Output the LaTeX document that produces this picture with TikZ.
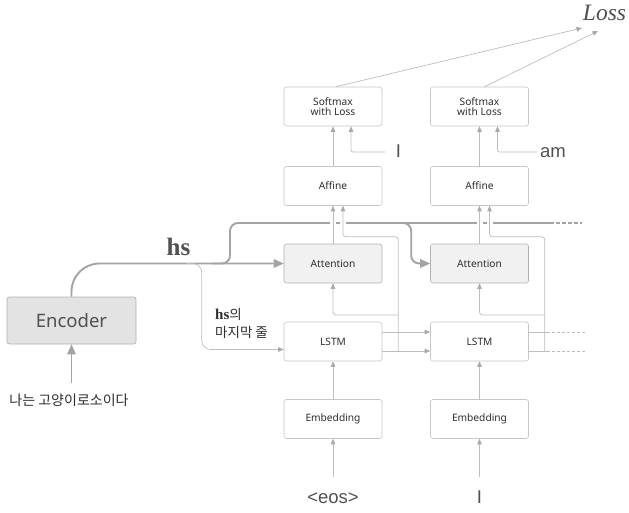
\documentclass[tikz,border=0pt]{standalone}
\usepackage{fontspec}
\setmainfont{Noto Sans}
\newfontfamily\kr{Noto Sans CJK KR}
\newfontfamily\serifb{Liberation Serif}
\newfontfamily\wordfont{Liberation Sans}
\usetikzlibrary{arrows.meta,calc}
\definecolor{boxc}{HTML}{C6C6C6}
\definecolor{attfill}{HTML}{F1F1F1}
\definecolor{encfill}{HTML}{E3E3E3}
\definecolor{encdraw}{HTML}{B2B2B2}
\definecolor{thinc}{HTML}{BDBDBD}
\definecolor{tipc}{HTML}{A9A9A9}
\definecolor{thickc}{HTML}{A3A3A3}
\definecolor{txt}{HTML}{2E2E2E}
\definecolor{lbl}{HTML}{505050}
\begin{document}
\begin{tikzpicture}[x=1pt,y=-1pt,
  box/.style={draw=boxc, fill=white, rounded corners=2.5pt, minimum width=98pt, minimum height=39pt,
    font=\fontsize{10.2}{10.4}\selectfont, align=center, text=txt, line width=0.6pt, inner sep=0pt},
  attbox/.style={box, fill=attfill, draw=boxc!90!black},
  thinline/.style={draw=thinc, line width=0.7pt},
  thinarrow/.style={thinline, -{Triangle[length=5.5pt,width=4.5pt,fill=tipc,color=tipc]}},
  thickline/.style={draw=thickc, line width=1.9pt},
  thickarrow/.style={thickline, -{Triangle[length=10pt,width=9pt,fill=thickc,color=thickc,line width=0pt]}},
  word/.style={font=\wordfont\fontsize{18.5}{20}\selectfont, text=lbl, inner sep=0pt},
]
\useasboundingbox (0,0) rectangle (629,512);

% boxes
\node[box] (sm1) at (333,106.5) {Softmax\\with Loss};
\node[box] (sm2) at (479.5,106.5) {Softmax\\with Loss};
\node[box] (af1) at (333,186) {Affine};
\node[box] (af2) at (479.5,186) {Affine};
\node[attbox] (at1) at (333,263.5) {Attention};
\node[attbox] (at2) at (479.5,263.5) {Attention};
\node[box] (ls1) at (333,341.5) {LSTM};
\node[box] (ls2) at (479.5,341.5) {LSTM};
\node[box] (em1) at (333,419) {Embedding};
\node[box] (em2) at (479.5,419) {Embedding};
\node[draw=encdraw, fill=encfill, rounded corners=2.5pt, minimum width=129pt, minimum height=47pt,
  line width=0.7pt, font=\fontsize{18.5}{20}\selectfont, text=lbl] (enc) at (71.5,320.5) {Encoder};

% texts
\node[font=\serifb\itshape\fontsize{23.5}{24}\selectfont, text=lbl, anchor=base, inner sep=0pt] (loss) at (604.5,20) {Loss};
\node[word, anchor=base] (wI) at (398.5,157) {I};
\node[word, anchor=base west] (wam) at (540,157) {am};
\node[word, anchor=base] (weos) at (333,503) {<eos>};
\node[word, anchor=base] (wI2) at (479.5,503) {I};
\node[font=\kr\fontsize{14}{15}\selectfont, text=txt, inner sep=0pt] (kor) at (69,400) {나는 고양이로소이다};
\node[font=\serifb\bfseries\fontsize{25}{25}\selectfont, text=lbl, anchor=base, inner sep=0pt] (hs) at (178.5,255) {hs};
\node[font=\kr\fontsize{13.5}{18.5}\selectfont, text=txt, anchor=north west, align=left, inner sep=0pt] (hslast) at (215,308)
  {{\serifb\bfseries\fontsize{15}{18.5}\selectfont hs}의\\마지막 줄};

% free ends
\coordinate (l1) at (582,28);
\coordinate (l2) at (598,31);
\coordinate (iS) at (385,152);
\coordinate (amS) at (537,152);
\coordinate (e1) at (333,477);
\coordinate (e2) at (479.5,477);
\coordinate (kin) at (71.5,383);
\coordinate (hsend) at (582,223);
\coordinate (hsmid) at (550,223);
\coordinate (o1) at (547,332);
\coordinate (o1e) at (585,332);
\coordinate (o2) at (547,351);
\coordinate (o2e) at (585,351);

% thick hs lines
\draw[thickarrow, rounded corners=28pt] (enc.north) |- (at1.west);
\draw[thickline, rounded corners=8pt] (212,263.5) -- (230,263.5) -- (230,223) -- (hsmid);
\draw[thickline, dashed, dash pattern=on 4pt off 2pt] (hsmid) -- (hsend);
\draw[thickarrow, rounded corners=8pt] (398,223) -| ($(at2.west)+(-19,0)$) -- (at2.west);
\draw[thickarrow] (kin) -- (enc.south);

% thin last-line path
\draw[thinarrow, rounded corners=9pt] (186,263.5) -| ($(ls1.west)+(-82,8)$) -- ($(ls1.west)+(0,8)$);

% gaps in hs line
\foreach \x in {333,343,479.5,489.5} \draw[white, line width=6pt] (\x,219.5) -- (\x,226.5);

% loss arrows
\draw[thinarrow] ($(sm1.north)+(3,0)$) -- (l1);
\draw[thinarrow] ($(sm2.north)+(5,0)$) -- (l2);

% label inputs
\draw[thinarrow, rounded corners=2pt] (iS) -| ($(sm1.south)+(18,0)$);
\draw[thinarrow, rounded corners=2pt] (amS) -| ($(sm2.south)+(18,0)$);

% vertical chains
\foreach \n in {1,2}{
  \draw[thinarrow] (af\n.north) -- (sm\n.south);
  \draw[thinarrow] (at\n.north) -- (af\n.south);
  \draw[thinarrow] (em\n.north) -- (ls\n.south);
  \draw[thinarrow] (e\n) -- (em\n.south);
  \draw[thinarrow, rounded corners=3pt] ($(ls\n.east)+(16,9.5)$) |- ($(af\n.south)+(10,31)$) -- ($(af\n.south)+(10,0)$);
  \draw[thinarrow, rounded corners=3pt] ($(ls\n.east)+(16,-26.5)$) -| (at\n.south);
}

% LSTM connections
\draw[thinarrow] ($(ls1.east)+(0,-9.5)$) -- ($(ls2.west)+(0,-9.5)$);
\draw[thinarrow] ($(ls1.east)+(0,9.5)$) -- ($(ls2.west)+(0,9.5)$);
\draw[thinline] ($(ls2.east)+(0,-9.5)$) -- (o1);
\draw[thinline, dashed, dash pattern=on 3pt off 2pt] (o1) -- (o1e);
\draw[thinline] ($(ls2.east)+(0,9.5)$) -- (o2);
\draw[thinline, dashed, dash pattern=on 3pt off 2pt] (o2) -- (o2e);
\end{tikzpicture}
\end{document}
